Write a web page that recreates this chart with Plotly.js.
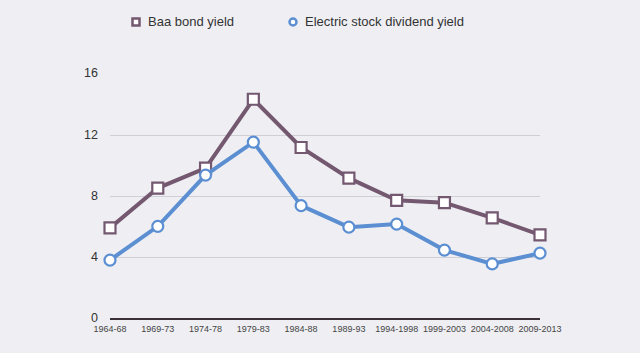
<!DOCTYPE html>
<html>
<head>
<meta charset="utf-8">
<script src="https://cdn.plot.ly/plotly-3.0.1.min.js"></script>
<style>
html,body{margin:0;padding:0;background:#efeff3;}
#chart{width:640px;height:353px;}
</style>
</head>
<body>
<div id="chart"></div>
<script>
var periods = ["1964-68","1969-73","1974-78","1979-83","1984-88","1989-93","1994-1998","1999-2003","2004-2008","2009-2013"];
var baaYield = [5.95, 8.55, 9.85, 14.35, 11.2, 9.2, 7.75, 7.6, 6.6, 5.5];
var electricYield = [3.85, 6.05, 9.4, 11.55, 7.4, 6.0, 6.2, 4.5, 3.6, 4.3];
var yTicks = [0, 4, 8, 12, 16];

var baaColor = "#735870";
var elecColor = "#5b8fd2";

var traces = [
  {
    x: periods, y: baaYield, type: "scatter", mode: "lines+markers",
    name: "Baa bond yield", showlegend: false,
    line: {color: baaColor, width: 4},
    marker: {symbol: "square", size: 11, color: "#ffffff", line: {color: baaColor, width: 2.2}},
    cliponaxis: false
  },
  {
    x: periods, y: electricYield, type: "scatter", mode: "lines+markers",
    name: "Electric stock dividend yield", showlegend: false,
    line: {color: elecColor, width: 4},
    marker: {symbol: "circle", size: 11, color: "#ffffff", line: {color: elecColor, width: 2.2}},
    cliponaxis: false
  }
];

var layout = {
  width: 640, height: 353,
  paper_bgcolor: "#efeff3", plot_bgcolor: "#efeff3",
  margin: {l: 110, r: 100, t: 74, b: 34},
  font: {family: "Liberation Sans, Arial, sans-serif", color: "#333333"},
  xaxis: {
    type: "category", range: [0, 9], showgrid: false, zeroline: false,
    showline: false, ticks: "", tickfont: {size: 9, color: "#444444"},
    tickangle: 0, automargin: false, ticklabelstandoff: 3
  },
  yaxis: {
    range: [0, 16], tickvals: yTicks, showgrid: true, gridcolor: "#cfcfd6", gridwidth: 1,
    zeroline: true, zerolinecolor: "#3a3038", zerolinewidth: 1.6,
    showline: false, ticks: "", tickfont: {size: 12.5, color: "#333333"},
    ticklabelstandoff: 11, ticklabelshift: -1, automargin: false
  },
  shapes: [
    {type: "rect", xref: "paper", yref: "paper", xsizemode: "pixel", ysizemode: "pixel",
     xanchor: (136-110)/430, yanchor: (353-34-22)/245, x0: -3.5, x1: 3.5, y0: -3.5, y1: 3.5,
     line: {color: baaColor, width: 2.5}, fillcolor: "#ffffff"},
    {type: "circle", xref: "paper", yref: "paper", xsizemode: "pixel", ysizemode: "pixel",
     xanchor: (293-110)/430, yanchor: (353-34-22)/245, x0: -3.5, x1: 3.5, y0: -3.5, y1: 3.5,
     line: {color: elecColor, width: 2.5}, fillcolor: "#ffffff"}
  ],
  annotations: [
    {text: "Baa bond yield", xref: "paper", yref: "paper", x: (146-110)/430, y: (353-34-22)/245,
     xanchor: "left", yanchor: "middle", showarrow: false, font: {size: 13, color: "#333333"}},
    {text: "Electric stock dividend yield", xref: "paper", yref: "paper", x: (303-110)/430, y: (353-34-22)/245,
     xanchor: "left", yanchor: "middle", showarrow: false, font: {size: 13, color: "#333333"}}
  ]
};

Plotly.newPlot("chart", traces, layout, {displayModeBar: false, staticPlot: true});
</script>
</body>
</html>
